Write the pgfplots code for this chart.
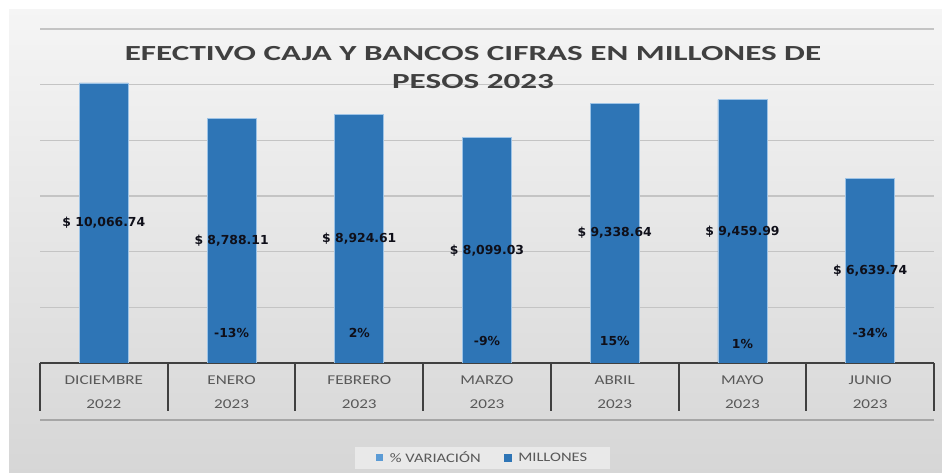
\documentclass[border=0pt]{standalone}
\usepackage{pgfplots}
\pgfplotsset{compat=1.18}
\usepackage{pgfplotstable}
\usepackage{fontspec}
\setmainfont{Carlito}[FakeStretch=1.27]
\newfontfamily\titlefont{Carlito}[FakeStretch=1.54]
\newfontfamily\lblfont{DejaVu Sans}
\definecolor{barblue}{RGB}{46,117,182}
\definecolor{varblue}{RGB}{91,155,213}
\definecolor{baredge}{RGB}{157,195,230}
\definecolor{titlegray}{RGB}{64,64,64}
\definecolor{tickgray}{RGB}{89,89,89}
\definecolor{sepgray}{RGB}{64,64,64}
\definecolor{gridgray}{RGB}{196,196,196}
\definecolor{botgray}{RGB}{166,166,166}
\definecolor{legfill}{RGB}{233,233,233}
\definecolor{lblcol}{RGB}{15,15,25}

\pgfplotstableread[col sep=semicolon, row sep=\\]{
x;v;lab\\
0;10066.74;\$ 10,066.74\\
1;8788.11;\$ 8,788.11\\
2;8924.61;\$ 8,924.61\\
3;8099.03;\$ 8,099.03\\
4;9338.64;\$ 9,338.64\\
5;9459.99;\$ 9,459.99\\
6;6639.74;\$ 6,639.74\\
}\millones

% % VARIACION labels (label height in axis units, label text)
\pgfplotstableread[col sep=semicolon, row sep=\\]{
x;pos;lab\\
1;1078;-13\%\\
2;1078;2\%\\
3;790;-9\%\\
4;790;15\%\\
5;683;1\%\\
6;1078;-34\%\\
}\variacion

\begin{document}
\begin{tikzpicture}[x=1pt,y=1pt]
\useasboundingbox (0,0) rectangle (942,473);
\fill[white] (0,0) rectangle (942,473);
\shade[top color=white!96!black, bottom color=white!84!black] (9,0) rectangle (942,463);
\begin{axis}[
  at={(40pt,110pt)}, anchor=south west,
  scale only axis, width=894pt, height=334pt,
  xmin=-0.5, xmax=6.5, ymin=0, ymax=12000,
  axis x line*=bottom, axis y line*=left,
  x axis line style={draw=sepgray, line width=2pt, -},
  y axis line style={draw=none},
  ytick={0,2000,...,12000}, yticklabel=\empty, scaled y ticks=false,
  ymajorgrids, grid style={draw=gridgray, line width=1.3pt},
  ytick style={draw=none},
  xtick={0,...,6},
  xticklabels={DICIEMBRE\\2022,ENERO\\2023,FEBRERO\\2023,MARZO\\2023,ABRIL\\2023,MAYO\\2023,JUNIO\\2023},
  xtick style={draw=none},
  xticklabel style={align=center, font=\fontsize{13.5}{24}\selectfont, text=tickgray, anchor=north, inner sep=0pt, yshift=-13pt},
  extra x ticks={-0.5,0.5,...,6.5}, extra x tick labels={},
  extra x tick style={grid=none, tick align=outside, major tick length=48pt, xtick style={draw=sepgray, line width=2pt}},
  legend style={at={(0.495,-0.2844)}, anchor=center, legend columns=2, fill=legfill, draw=none,
    font=\fontsize{13}{15}\selectfont, text=tickgray, inner xsep=21pt, inner ysep=3pt,
    /tikz/every odd column/.append style={column sep=5pt},
    /tikz/every even column/.append style={column sep=21pt}},
]
\addlegendimage{area legend, fill=varblue, draw=none, legend image code/.code={\fill[varblue] (0pt,-3pt) rectangle (7pt,3.5pt);}}
\addlegendentry{\% VARIACIÓN}
\addplot[ybar, bar width=49pt, fill=barblue, draw=baredge, line width=0.6pt,
  legend image code/.code={\fill[barblue] (0pt,-3pt) rectangle (7pt,3.5pt);}] table[x=x, y=v]{\millones};
\addlegendentry{MILLONES}
\addplot[forget plot, only marks, mark=*, mark size=0pt, mark options={draw=none, fill=none},
  nodes near coords, nodes near coords align={center}, point meta=explicit symbolic,
  every node near coord/.append style={anchor=center, font=\lblfont\bfseries\fontsize{12.4}{14}\selectfont, text=lblcol, inner sep=0pt}]
  table[x=x, y expr=\thisrow{v}/2, meta=lab]{\millones};
\addplot[forget plot, only marks, mark=*, mark size=0pt, mark options={draw=none, fill=none},
  nodes near coords, nodes near coords align={center}, point meta=explicit symbolic,
  every node near coord/.append style={anchor=center, font=\lblfont\bfseries\fontsize{12.4}{14}\selectfont, text=lblcol, inner sep=0pt}]
  table[x=x, y=pos, meta=lab]{\variacion};
\end{axis}
\draw[botgray, line width=1.5pt] (40,53) -- (934,53);
\node[anchor=base, font=\titlefont\bfseries\fontsize{21.5}{24}\selectfont, text=titlegray] at (473,412) {EFECTIVO CAJA Y BANCOS CIFRAS EN MILLONES DE};
\node[anchor=base, font=\titlefont\bfseries\fontsize{21.5}{24}\selectfont, text=titlegray] at (473,384) {PESOS 2023};
\end{tikzpicture}
\end{document}
